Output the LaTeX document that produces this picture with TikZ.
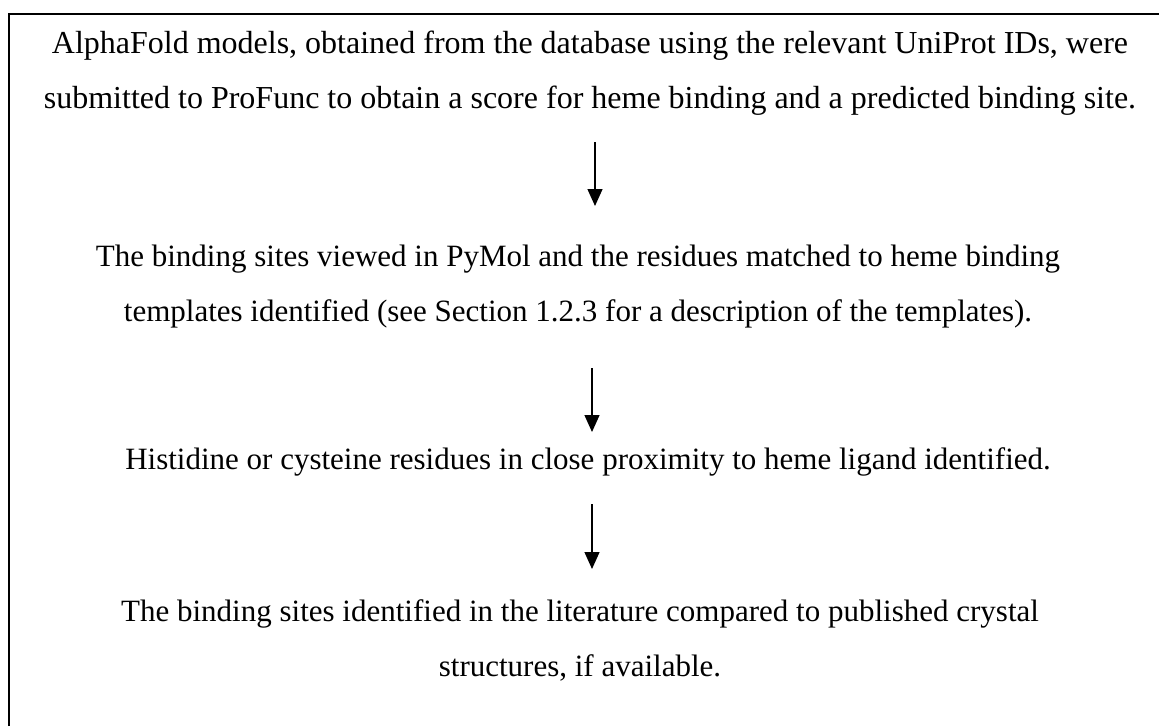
\documentclass[tikz,border=0pt]{standalone}
\usepackage{fontspec}
\setmainfont{Liberation Serif}
\usetikzlibrary{arrows.meta}
\begin{document}
\begin{tikzpicture}[x=1pt,y=-1pt,
  stepbox/.style={align=center,inner sep=0pt,anchor=base,font=\fontsize{31}{55}\selectfont},
  flow/.style={line width=1.3pt,-{Triangle[width=15pt,length=17pt]}}]
\useasboundingbox (0,0) rectangle (1159,726);
\draw[line width=2pt] (9,726) -- (9,14) -- (1159,14);
\node[stepbox,font=\fontsize{32}{55}\selectfont] (b1) at (590,108) {AlphaFold models, obtained from the database using the relevant UniProt IDs, were\\submitted to ProFunc to obtain a score for heme binding and a predicted binding site.};
\node[stepbox] (b2) at (578,321) {The binding sites viewed in PyMol and the residues matched to heme binding\\templates identified (see Section 1.2.3 for a description of the templates).};
\node[stepbox] (b3) at (588,469) {Histidine or cysteine residues in close proximity to heme ligand identified.};
\node[stepbox] (b4) at (580,676) {The binding sites identified in the literature compared to published crystal\\structures, if available.};
\draw[flow] ([xshift=5pt,yshift=-34pt]b1.base) -- ([xshift=17pt,yshift=115pt]b2.base);
\draw[flow] ([xshift=14pt,yshift=-47pt]b2.base) -- ([xshift=4pt,yshift=37pt]b3.base);
\draw[flow] ([xshift=4pt,yshift=-35pt]b3.base) -- ([xshift=12pt,yshift=107pt]b4.base);
\end{tikzpicture}
\end{document}
